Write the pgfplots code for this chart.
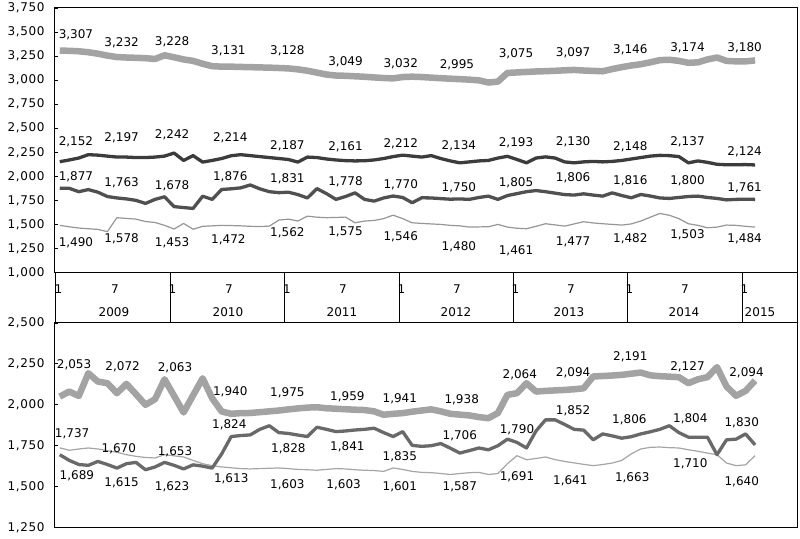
\documentclass[border=0pt]{standalone}
\usepackage{fontspec}
\setmainfont{DejaVu Sans}
\newfontfamily\tickfont{DejaVu Sans}[LetterSpace=5]
\usepackage{pgfplots}
\pgfplotsset{compat=1.18}
\usepackage{pgfplotstable}

\definecolor{thickc}{RGB}{163,163,163}
\definecolor{dkc}{RGB}{60,60,60}
\definecolor{mdc}{RGB}{80,80,80}
\definecolor{thinc}{RGB}{150,150,150}
\definecolor{bmdc}{RGB}{105,105,105}
\definecolor{bthinc}{RGB}{165,165,165}

\pgfplotstableread{
i a b c d
0 3307 2152 1877 1490
1 3305 2170 1875 1475
2 3300 2190 1840 1462
3 3290 2225 1862 1455
4 3275 2220 1835 1448
5 3255 2210 1790 1425
6 3240 2200 1775 1570
7 3235 2200 1765 1562
8 3232 2195 1750 1555
9 3228 2195 1718 1530
10 3220 2200 1760 1520
11 3258 2210 1787 1490
12 3238 2242 1685 1452
13 3215 2165 1675 1510
14 3200 2215 1666 1450
15 3170 2148 1793 1480
16 3145 2165 1760 1485
17 3140 2185 1863 1490
18 3140 2214 1870 1488
19 3137 2225 1880 1485
20 3135 2215 1910 1480
21 3132 2205 1870 1478
22 3130 2195 1840 1482
23 3126 2185 1830 1545
24 3122 2175 1835 1555
25 3112 2148 1810 1535
26 3098 2200 1775 1586
27 3078 2195 1872 1575
28 3058 2180 1820 1570
29 3048 2170 1760 1572
30 3045 2163 1790 1576
31 3040 2160 1828 1517
32 3035 2162 1760 1535
33 3028 2170 1742 1541
34 3022 2185 1775 1560
35 3018 2205 1795 1596
36 3032 2220 1780 1560
37 3036 2210 1725 1517
38 3032 2200 1777 1510
39 3026 2215 1775 1505
40 3020 2185 1768 1500
41 3015 2160 1762 1490
42 3010 2140 1765 1485
43 3005 2150 1760 1472
44 2998 2160 1780 1474
45 2975 2165 1794 1476
46 2985 2190 1760 1500
47 3075 2208 1800 1472
48 3080 2175 1820 1460
49 3085 2140 1840 1455
50 3090 2190 1852 1480
51 3093 2202 1840 1507
52 3097 2190 1825 1495
53 3102 2150 1810 1482
54 3106 2140 1805 1505
55 3100 2150 1818 1528
56 3096 2155 1805 1515
57 3092 2150 1794 1507
58 3115 2155 1828 1500
59 3135 2165 1800 1493
60 3152 2180 1777 1505
61 3165 2195 1811 1535
62 3185 2210 1795 1575
63 3208 2218 1775 1614
64 3212 2215 1770 1595
65 3200 2205 1780 1560
66 3180 2140 1790 1507
67 3185 2160 1794 1490
68 3215 2145 1780 1465
69 3235 2125 1770 1472
70 3200 2120 1755 1493
71 3195 2120 1760 1490
72 3195 2122 1762 1480
73 3205 2118 1760 1472
}\toptab

\pgfplotstableread{
i a b c
0 2050 1695 1737
1 2081 1660 1722
2 2054 1635 1730
3 2193 1630 1736
4 2142 1654 1730
5 2132 1635 1720
6 2071 1613 1710
7 2128 1640 1695
8 2065 1648 1685
9 2000 1603 1678
10 2034 1620 1675
11 2156 1648 1695
12 2055 1630 1688
13 1953 1608 1681
14 2058 1633 1660
15 2162 1625 1640
16 2040 1613 1628
17 1959 1700 1620
18 1945 1806 1615
19 1949 1812 1610
20 1950 1816 1608
21 1955 1850 1610
22 1960 1872 1612
23 1965 1830 1614
24 1972 1825 1610
25 1978 1815 1605
26 1983 1806 1603
27 1985 1863 1600
28 1979 1850 1605
29 1976 1836 1610
30 1973 1840 1608
31 1970 1846 1603
32 1968 1850 1600
33 1960 1857 1598
34 1939 1830 1593
35 1945 1806 1614
36 1949 1836 1605
37 1958 1752 1593
38 1965 1746 1587
39 1972 1750 1585
40 1960 1763 1580
41 1945 1735 1574
42 1940 1705 1580
43 1935 1720 1585
44 1925 1736 1587
45 1918 1725 1574
46 1950 1750 1580
47 2061 1790 1640
48 2071 1770 1689
49 2132 1736 1664
50 2081 1840 1672
51 2085 1908 1681
52 2088 1908 1665
53 2091 1880 1654
54 2095 1850 1645
55 2101 1845 1636
56 2173 1786 1628
57 2176 1822 1635
58 2179 1810 1644
59 2183 1796 1660
60 2190 1805 1700
61 2197 1822 1730
62 2180 1835 1740
63 2175 1850 1742
64 2172 1872 1738
65 2169 1830 1736
66 2132 1802 1725
67 2156 1802 1716
68 2169 1802 1705
69 2230 1695 1695
70 2112 1786 1644
71 2055 1790 1628
72 2085 1822 1633
73 2148 1755 1689
}\bottab

\newcommand{\fs}{\fontsize{12}{13}\selectfont}
\newcommand{\lab}[3]{\node[font=\fs, inner sep=0pt] at (axis cs:#1,#2) {#3};}

\pgfplotsset{panel/.style={
  scale only axis, width=742pt,
  xmin=-0.5, xmax=77.4, xtick=\empty,
  ytick pos=left, tick align=inside, major tick length=3pt,
  axis line style={line width=1pt, black},
  every tick/.style={black, line width=0.8pt},
  clip=false,
  yticklabel style={font=\tickfont\fontsize{12}{13}\selectfont, xshift=-7pt},
  /pgf/number format/.cd, 1000 sep={,}, assume math mode=true}}

\begin{document}
\begin{tikzpicture}[x=1pt,y=1pt]
\useasboundingbox (0,0) rectangle (800,538);

% top panel
\begin{axis}[panel, height=264.5pt, at={(55pt,265.5pt)}, anchor=south west,
  ymin=1000, ymax=3750, ytick={1000,1250,...,3750}]
\addplot[thickc, line width=6.5pt, line join=round] table[x=i,y=a] {\toptab};
\addplot[dkc, line width=3.3pt, line join=round] table[x=i,y=b] {\toptab};
\addplot[mdc, line width=3.3pt, line join=round] table[x=i,y=c] {\toptab};
\addplot[thinc, line width=1.2pt, line join=round] table[x=i,y=d] {\toptab};
\lab{1.7}{3470}{3,307}\lab{6.5}{3387}{3,232}\lab{11.8}{3398}{3,228}
\lab{17.7}{3304}{3,131}\lab{23.9}{3304}{3,128}\lab{30}{3190}{3,049}
\lab{35.8}{3169}{3,032}\lab{41.7}{3159}{2,995}\lab{47.9}{3273}{3,075}
\lab{53.9}{3283}{3,097}\lab{59.9}{3314}{3,146}\lab{65.9}{3335}{3,174}
\lab{71.9}{3335}{3,180}
\lab{1.7}{2360}{2,152}\lab{6.5}{2402}{2,197}\lab{11.8}{2433}{2,242}
\lab{17.9}{2402}{2,214}\lab{23.9}{2319}{2,187}\lab{30}{2309}{2,161}
\lab{35.8}{2340}{2,212}\lab{41.9}{2319}{2,134}\lab{47.9}{2350}{2,193}
\lab{53.9}{2360}{2,130}\lab{59.9}{2309}{2,148}\lab{65.9}{2360}{2,137}
\lab{71.9}{2257}{2,124}
\lab{1.7}{1997}{1,877}\lab{6.5}{1935}{1,763}\lab{11.8}{1904}{1,678}
\lab{17.9}{1997}{1,876}\lab{23.9}{1977}{1,831}\lab{30}{1946}{1,778}
\lab{35.8}{1915}{1,770}\lab{41.9}{1883}{1,750}\lab{47.9}{1935}{1,805}
\lab{53.9}{1987}{1,806}\lab{59.9}{1956}{1,816}\lab{65.9}{1956}{1,800}
\lab{71.9}{1883}{1,761}
\lab{1.7}{1313}{1,490}\lab{6.5}{1355}{1,578}\lab{11.8}{1313}{1,453}
\lab{17.7}{1344}{1,472}\lab{23.9}{1417}{1,562}\lab{30}{1427}{1,575}
\lab{35.8}{1376}{1,546}\lab{41.9}{1272}{1,480}\lab{47.9}{1230}{1,461}
\lab{53.9}{1324}{1,477}\lab{59.9}{1355}{1,482}\lab{65.9}{1396}{1,503}
\lab{71.9}{1355}{1,484}
\end{axis}

% bottom panel
\begin{axis}[panel, height=204.5pt, at={(55pt,10.5pt)}, anchor=south west,
  ymin=1250, ymax=2500, ytick={1250,1500,...,2500}]
\addplot[thickc, line width=6.5pt, line join=round] table[x=i,y=a] {\bottab};
\addplot[bthinc, line width=1.2pt, line join=round] table[x=i,y=c] {\bottab};
\addplot[bmdc, line width=3.3pt, line join=round] table[x=i,y=b] {\bottab};
\lab{1.5}{2244}{2,053}\lab{6.6}{2232}{2,072}\lab{12.1}{2225}{2,063}
\lab{17.9}{2079}{1,940}\lab{23.9}{2073}{1,975}\lab{30.2}{2049}{1,959}
\lab{35.7}{2036}{1,941}\lab{42.2}{2030}{1,938}\lab{48.3}{2183}{2,064}
\lab{53.9}{2195}{2,094}\lab{59.9}{2293}{2,191}\lab{65.9}{2232}{2,127}
\lab{72.1}{2195}{2,094}
\lab{1.3}{1823}{1,737}\lab{6.2}{1731}{1,670}\lab{12.1}{1713}{1,653}
\lab{1.8}{1567}{1,689}\lab{6.5}{1524}{1,615}\lab{11.8}{1500}{1,623}
\lab{18.0}{1548}{1,613}\lab{23.9}{1512}{1,603}\lab{29.8}{1512}{1,603}
\lab{35.7}{1500}{1,601}\lab{42.0}{1500}{1,587}\lab{48.0}{1561}{1,691}
\lab{53.6}{1536}{1,641}\lab{60.1}{1555}{1,663}\lab{66.2}{1640}{1,710}
\lab{71.6}{1530}{1,640}
\lab{17.8}{1878}{1,824}\lab{24.0}{1731}{1,828}\lab{30.2}{1744}{1,841}
\lab{35.7}{1683}{1,835}\lab{42.0}{1811}{1,706}\lab{48.0}{1847}{1,790}
\lab{53.9}{1963}{1,852}\lab{59.8}{1908}{1,806}\lab{66.2}{1914}{1,804}
\lab{71.6}{1890}{1,830}
\end{axis}

% middle date band
\draw[line width=1pt] (55,215) -- (55,265.5);
\draw[line width=1pt] (797,215) -- (797,265.5);
\foreach \s in {170,284.5,399,513,627,742}
  \draw[line width=0.9pt] (\s,215) -- (\s,265.5);
\foreach \s in {56,170,284.5,399,513,627,742}
  \node[font=\fs, inner sep=0pt] at (\s+2.5,249) {1};
\foreach \s in {115,229,343,457,571,685}
  \node[font=\fs, inner sep=0pt] at (\s,249) {7};
\node[font=\fs, inner sep=0pt] at (114,226) {2009};
\node[font=\fs, inner sep=0pt] at (228,226) {2010};
\node[font=\fs, inner sep=0pt] at (342,226) {2011};
\node[font=\fs, inner sep=0pt] at (456,226) {2012};
\node[font=\fs, inner sep=0pt] at (569,226) {2013};
\node[font=\fs, inner sep=0pt] at (684,226) {2014};
\node[font=\fs, inner sep=0pt] at (760,226) {2015};
\end{tikzpicture}
\end{document}
